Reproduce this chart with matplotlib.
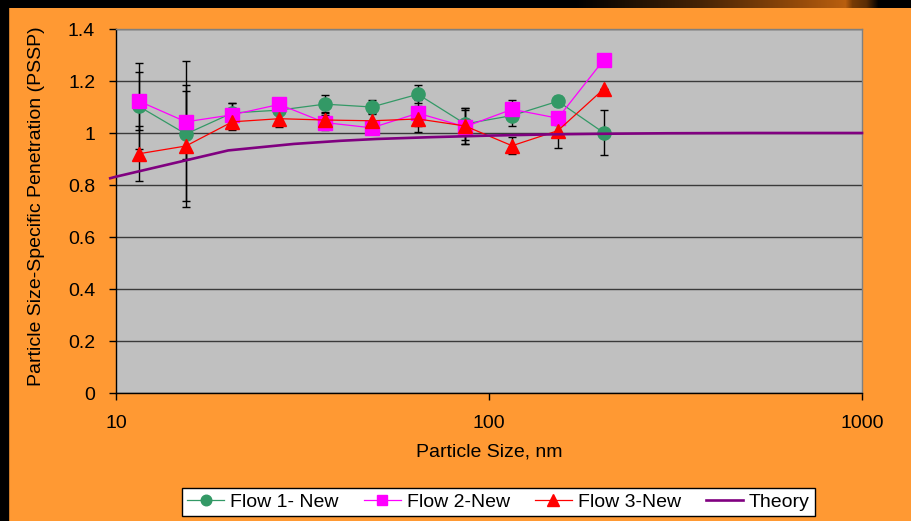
import matplotlib
matplotlib.use("Agg")
import matplotlib.pyplot as plt
import numpy as np

# --- data ---
SIZES = [11.5, 15.4, 20.5, 27.4, 36.3, 48.5, 64.5, 86.3, 115.3, 153.0, 203.0]

FLOW1 = [1.103, 0.996, 1.077, 1.088, 1.111, 1.100, 1.149, 1.035, 1.067, 1.122, 1.001]
FLOW1_ERR = [0.165, 0.280, 0.037, 0.045, 0.034, 0.027, 0.035, 0.060, 0.040, 0.020, 0.086]

FLOW2 = [1.123, 1.043, 1.070, 1.110, 1.040, 1.020, 1.076, 1.024, 1.091, 1.057, 1.281]
FLOW2_ERR = [0.112, 0.142, 0.045, 0.023, 0.030, 0.020, 0.050, 0.065, 0.036, 0.025, 0.0]

FLOW3 = [0.920, 0.950, 1.043, 1.055, 1.050, 1.047, 1.054, 1.027, 0.951, 1.009, 1.169]
FLOW3_ERR = [0.105, 0.210, 0.030, 0.030, 0.030, 0.030, 0.050, 0.070, 0.032, 0.066, 0.0]

THEORY_SIZES = [9.65, 10, 20, 30, 40, 50, 70, 100, 150, 200, 300, 500, 1000]
THEORY = [0.826, 0.832, 0.933, 0.958, 0.970, 0.977, 0.984, 0.990, 0.995, 0.997, 0.999, 1.0, 1.0]

X_TICKS = [10, 100, 1000]
X_TICK_LABELS = ["10", "100", "1000"]
Y_TICKS = [0, 0.2, 0.4, 0.6, 0.8, 1.0, 1.2, 1.4]
Y_TICK_LABELS = ["0", "0.2", "0.4", "0.6", "0.8", "1", "1.2", "1.4"]

LABELS = ["Flow 1- New", "Flow 2-New", "Flow 3-New", "Theory"]

# styling
ORANGE = "#FF9933"
PLOT_BG = "#C0C0C0"
GREEN = "#339966"
PINK = "#FF00FF"
RED = "#FF0000"
PURPLE = "#800080"
FS = 14

plt.rcParams["font.family"] = ["Liberation Sans", "DejaVu Sans"]

W, H = 912, 521
fig = plt.figure(figsize=(W / 100, H / 100), dpi=100, facecolor=ORANGE)

# slide decoration: black band on the left, dark band with a brown swoosh on top
fig.patches.append(plt.Rectangle((0, 0), 8 / W, 1, transform=fig.transFigure,
                                 color="black", zorder=0))
deco = fig.add_axes([0, 1 - 8 / H, 1, 8 / H])
deco.set_zorder(2)
deco.axis("off")
xs = np.arange(W)
stops_x = [0, 575, 700, 800, 845, 852, 866, 878, W]
r = np.interp(xs, stops_x, [0, 0, 70, 150, 185, 120, 90, 0, 0])
g = np.interp(xs, stops_x, [0, 0, 35, 75, 95, 60, 45, 0, 0])
b = np.interp(xs, stops_x, [0, 0, 5, 10, 15, 5, 5, 0, 0])
grad = np.stack([r, g, b], axis=-1)[None, :, :] / 255.0
deco.imshow(grad, aspect="auto", extent=(0, 1, 0, 1), interpolation="bilinear")
deco.set_xlim(0, 1)
deco.set_ylim(0, 1)

ax = fig.add_axes([116 / W, (H - 393) / H, 746 / W, 364 / H])
ax.set_facecolor(PLOT_BG)

# error bars first, markers on top
for vals, errs in [(FLOW1, FLOW1_ERR), (FLOW2, FLOW2_ERR), (FLOW3, FLOW3_ERR)]:
    ax.errorbar(SIZES, vals, yerr=errs, fmt="none", ecolor="black",
                elinewidth=1.0, capsize=2.8, capthick=1.0, zorder=3)

ax.plot(SIZES, FLOW1, color=GREEN, lw=0.9, marker="o", ms=9.5,
        mfc=GREEN, mec=GREEN, label=LABELS[0], zorder=4)
ax.plot(SIZES, FLOW2, color=PINK, lw=0.9, marker="s", ms=9.5,
        mfc=PINK, mec=PINK, label=LABELS[1], zorder=4)
ax.plot(SIZES, FLOW3, color=RED, lw=0.9, marker="^", ms=10,
        mfc=RED, mec=RED, label=LABELS[2], zorder=4)
ax.plot(THEORY_SIZES, THEORY, color=PURPLE, lw=1.9, label=LABELS[3],
        zorder=4, clip_on=False)

ax.set_xscale("log")
ax.set_xlim(10, 1000)
ax.set_ylim(0, 1.4)
ax.set_xticks(X_TICKS)
ax.set_xticklabels(X_TICK_LABELS)
ax.xaxis.set_minor_locator(matplotlib.ticker.NullLocator())
ax.set_yticks(Y_TICKS)
ax.set_yticklabels(Y_TICK_LABELS)

ax.tick_params(axis="x", direction="out", length=5, width=1, pad=11, labelsize=FS)
ax.tick_params(axis="y", direction="out", length=5, width=1, pad=10, labelsize=FS)

ax.yaxis.grid(True, color="#3a3a3a", lw=1.0, zorder=1)
ax.set_axisbelow(True)
ax.spines["left"].set_color("black")
ax.spines["bottom"].set_color("black")
ax.spines["top"].set_color("#808080")
ax.spines["right"].set_color("#808080")
for s in ax.spines.values():
    s.set_linewidth(1.0)

ax.set_xlabel("Particle Size, nm", fontsize=FS)
ax.xaxis.set_label_coords(0.5, -0.14)
ax.set_ylabel("Particle Size-Specific Penetration (PSSP)", fontsize=FS)
ax.yaxis.set_label_coords(-0.095, 0.514)

leg = fig.legend(loc="center", bbox_to_anchor=(498.5 / W, 19 / H), ncol=4,
                 fontsize=FS, frameon=True, fancybox=False, framealpha=1,
                 edgecolor="black", facecolor="white", handlelength=1.9,
                 handletextpad=0.3, columnspacing=1.3, borderpad=0.25,
                 markerscale=0.8)
leg.get_frame().set_linewidth(1.0)

fig.savefig("out.png", dpi=100, facecolor=ORANGE)
